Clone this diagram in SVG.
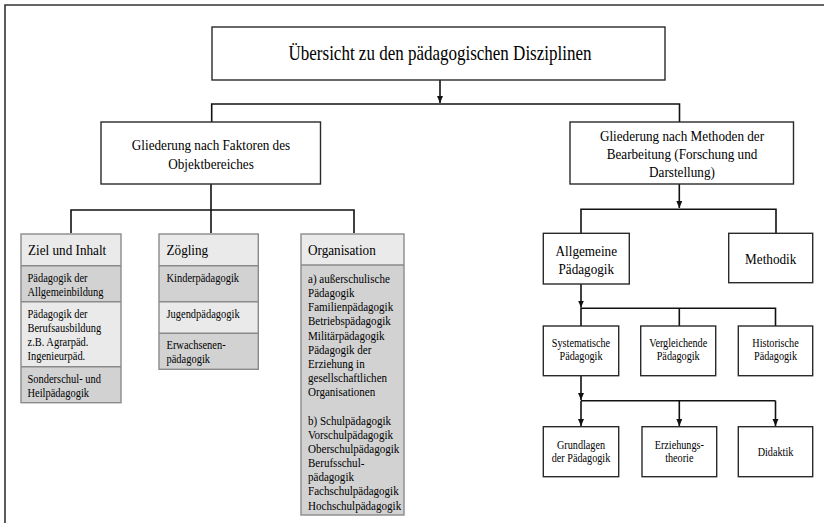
<svg xmlns="http://www.w3.org/2000/svg" width="824" height="523" viewBox="0 0 824 523" font-family="'Liberation Serif', 'Times New Roman', serif">
<defs>
<marker id="ah" markerUnits="userSpaceOnUse" markerWidth="7" markerHeight="7" refX="7" refY="3" orient="auto"><path d="M0,0 L7,3 L0,6 z" fill="#111"/></marker>
<style>
.t{font-family:'Liberation Serif','Times New Roman',serif;fill:#000}
.title{font-size:20px}
.g{font-size:15.5px}
.h{font-size:15.5px}
.b{font-size:12.3px}
.o{font-size:13px}
.s{font-size:12px}
.box{fill:#fff;stroke:#2a2a2a;stroke-width:1.4}
.gb{stroke:#8a8a8a;stroke-width:1.4}
.hd{fill:#eaeaea}
.dk{fill:#d2d2d2}
.lt{fill:#eaeaea}
.c{fill:none;stroke:#111;stroke-width:1.6}
</style>
</defs>
<rect width="824" height="523" fill="#fff"/>
<path d="M5,523 V5 H824" fill="none" stroke="#333" stroke-width="1.6"/>

<g id="connectors">
<path class="c" d="M440,80 V103" marker-end="url(#ah)"/>
<path class="c" d="M211.7,122 V104 H679.5 V122" stroke-width="2"/>
<path class="c" d="M211,184 V210"/>
<path class="c" d="M71,233 V210 H354 V233"/>
<path class="c" d="M211,210 V233"/>
<path class="c" d="M679.3,184 V208" marker-end="url(#ah)"/>
<path class="c" d="M581,233.3 V209.3 H776 V233.3"/>
<path class="c" d="M581,284 V307.5" marker-end="url(#ah)"/>
<path class="c" d="M581,326 V308.3 H775.5 V326"/>
<path class="c" d="M679.3,308.3 V326"/>
<path class="c" d="M581,375.7 V400" marker-end="url(#ah)"/>
<path class="c" d="M581,400.7 H775.5"/>
<path class="c" d="M581,400.7 V426" marker-end="url(#ah)"/>
<path class="c" d="M679.3,400.7 V426" marker-end="url(#ah)"/>
<path class="c" d="M775.5,400.7 V426" marker-end="url(#ah)"/>
</g>

<g id="n-title">
<rect class="box" x="212" y="27" width="453" height="53"/>
<text class="t title" text-anchor="middle" transform="translate(440,60) scale(0.85,1)">Übersicht zu den pädagogischen Disziplinen</text>
</g>

<g id="n-faktoren">
<rect class="box" x="101" y="122" width="219.5" height="62"/>
<text class="t g" text-anchor="middle" transform="translate(211,150) scale(0.85,1)"><tspan x="0">Gliederung nach Faktoren des</tspan><tspan x="0" dy="19">Objektbereiches</tspan></text>
</g>

<g id="n-methoden">
<rect class="box" x="570" y="122" width="223.5" height="62"/>
<text class="t g" text-anchor="middle" transform="translate(682,141) scale(0.85,1)"><tspan x="0">Gliederung nach Methoden der</tspan><tspan x="0" dy="18">Bearbeitung (Forschung und</tspan><tspan x="0" dy="18">Darstellung)</tspan></text>
</g>

<g id="n-ziel">
<rect class="hd" x="21" y="234" width="100" height="31.7"/>
<rect class="dk" x="21" y="265.7" width="100" height="36"/>
<rect class="lt" x="21" y="301.7" width="100" height="65"/>
<rect class="dk" x="21" y="366.7" width="100" height="36"/>
<path class="gb" fill="none" d="M21,265.7 H121 M21,301.7 H121 M21,366.7 H121"/>
<rect class="gb" fill="none" x="21" y="234" width="100" height="168.7"/>
<text class="t h" transform="translate(28,255) scale(0.85,1)">Ziel und Inhalt</text>
<text class="t b" transform="translate(27.5,282) scale(0.85,1)"><tspan x="0">Pädagogik der</tspan><tspan x="0" dy="14.2">Allgemeinbildung</tspan></text>
<text class="t b" transform="translate(27.5,317.7) scale(0.85,1)"><tspan x="0">Pädagogik der</tspan><tspan x="0" dy="14.2">Berufsausbildung</tspan><tspan x="0" dy="14.2">z.B. Agrarpäd.</tspan><tspan x="0" dy="14.2">Ingenieurpäd.</tspan></text>
<text class="t b" transform="translate(27.5,382.7) scale(0.85,1)"><tspan x="0">Sonderschul- und</tspan><tspan x="0" dy="14.2">Heilpädagogik</tspan></text>
</g>

<g id="n-zoegling">
<rect class="hd" x="159" y="234" width="99.3" height="31.7"/>
<rect class="dk" x="159" y="265.7" width="99.3" height="36"/>
<rect class="lt" x="159" y="301.7" width="99.3" height="31.6"/>
<rect class="dk" x="159" y="333.3" width="99.3" height="36"/>
<path class="gb" fill="none" d="M159,265.7 H258.3 M159,301.7 H258.3 M159,333.3 H258.3"/>
<rect class="gb" fill="none" x="159" y="234" width="99.3" height="135.3"/>
<text class="t h" transform="translate(166.5,255) scale(0.85,1)">Zögling</text>
<text class="t b" transform="translate(166.5,282) scale(0.85,1)">Kinderpädagogik</text>
<text class="t b" transform="translate(166.5,317.7) scale(0.85,1)">Jugendpädagogik</text>
<text class="t b" transform="translate(166.5,349.3) scale(0.85,1)"><tspan x="0">Erwachsenen-</tspan><tspan x="0" dy="14.2">pädagogik</tspan></text>
</g>

<g id="n-organisation">
<rect class="hd" x="301" y="234" width="103" height="31"/>
<rect class="dk" x="301" y="265" width="103" height="250"/>
<path class="gb" fill="none" d="M301,265 H404"/>
<rect class="gb" fill="none" x="301" y="234" width="103" height="281"/>
<text class="t h" transform="translate(308,255) scale(0.85,1)">Organisation</text>
<text class="t o" transform="translate(308,283) scale(0.85,1)"><tspan x="0">a) außerschulische</tspan><tspan x="0" dy="14.16">Pädagogik</tspan><tspan x="0" dy="14.16">Familienpädagogik</tspan><tspan x="0" dy="14.16">Betriebspädagogik</tspan><tspan x="0" dy="14.16">Militärpädagogik</tspan><tspan x="0" dy="14.16">Pädagogik der</tspan><tspan x="0" dy="14.16">Erziehung in</tspan><tspan x="0" dy="14.16">gesellschaftlichen</tspan><tspan x="0" dy="14.16">Organisationen</tspan><tspan x="0" dy="28.32">b) Schulpädagogik</tspan><tspan x="0" dy="14.16">Vorschulpädagogik</tspan><tspan x="0" dy="14.16">Oberschulpädagogik</tspan><tspan x="0" dy="14.16">Berufsschul-</tspan><tspan x="0" dy="14.16">pädagogik</tspan><tspan x="0" dy="14.16">Fachschulpädagogik</tspan><tspan x="0" dy="14.16">Hochschulpädagogik</tspan></text>
</g>

<g id="n-allgemeine">
<rect class="box" x="543.3" y="233.3" width="86" height="50.7"/>
<text class="t g" text-anchor="middle" transform="translate(586.3,256) scale(0.85,1)"><tspan x="0">Allgemeine</tspan><tspan x="0" dy="18">Pädagogik</tspan></text>
</g>

<g id="n-methodik">
<rect class="box" x="728.7" y="233.3" width="84" height="49.4"/>
<text class="t g" text-anchor="middle" transform="translate(770.7,264) scale(0.85,1)">Methodik</text>
</g>

<g id="n-systematische">
<rect class="box" x="543.3" y="326" width="75.4" height="49.7"/>
<text class="t s" text-anchor="middle" transform="translate(581,347) scale(0.85,1)"><tspan x="0">Systematische</tspan><tspan x="0" dy="13.5">Pädagogik</tspan></text>
</g>

<g id="n-vergleichende">
<rect class="box" x="640.7" y="326" width="75" height="49.7"/>
<text class="t s" text-anchor="middle" transform="translate(678.2,347) scale(0.85,1)"><tspan x="0">Vergleichende</tspan><tspan x="0" dy="13.5">Pädagogik</tspan></text>
</g>

<g id="n-historische">
<rect class="box" x="738.3" y="326" width="74.4" height="49.7"/>
<text class="t s" text-anchor="middle" transform="translate(775.5,347) scale(0.85,1)"><tspan x="0">Historische</tspan><tspan x="0" dy="13.5">Pädagogik</tspan></text>
</g>

<g id="n-grundlagen">
<rect class="box" x="543.3" y="426.7" width="75.4" height="50"/>
<text class="t s" text-anchor="middle" transform="translate(581,448.5) scale(0.85,1)"><tspan x="0">Grundlagen</tspan><tspan x="0" dy="14">der Pädagogik</tspan></text>
</g>

<g id="n-erziehung">
<rect class="box" x="642" y="426.7" width="74.7" height="50"/>
<text class="t s" text-anchor="middle" transform="translate(679.3,448.5) scale(0.85,1)"><tspan x="0">Erziehungs-</tspan><tspan x="0" dy="14">theorie</tspan></text>
</g>

<g id="n-didaktik">
<rect class="box" x="738.3" y="426.7" width="74.4" height="50"/>
<text class="t s" text-anchor="middle" transform="translate(775.5,455.5) scale(0.85,1)">Didaktik</text>
</g>
</svg>
